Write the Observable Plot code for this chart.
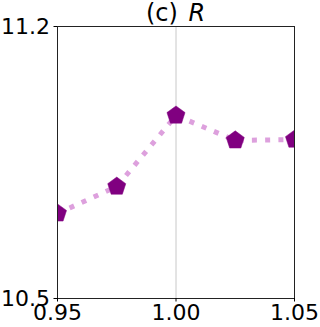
<!DOCTYPE html>
<html>
<head>
<meta charset="utf-8">
<script src="https://cdn.jsdelivr.net/npm/d3@7"></script>
<script src="https://cdn.jsdelivr.net/npm/@observablehq/plot@0.6"></script>
<style>
  html, body { margin: 0; padding: 0; background: #fff; }
  #chart svg { display: block; }
</style>
</head>
<body>
<div id="chart"></div>
<script>
const titlePrefix = "(c) ";
const titleVar = "R";
const xValues = [0.95, 0.975, 1.0, 1.025, 1.05];
const yValues = [10.719, 10.788, 10.971, 10.907, 10.909];
const xTicks = [0.95, 1.00, 1.05];
const yTicks = [10.5, 11.2];
const refX = [1.0];

const data = xValues.map((x, i) => ({x, y: yValues[i]}));

const pentagon = {
  draw(ctx, size) {
    const R = Math.sqrt(size / Math.PI);
    for (let i = 0; i < 5; i++) {
      const a = -Math.PI / 2 + i * 2 * Math.PI / 5;
      const px = R * Math.cos(a), py = R * Math.sin(a);
      if (i === 0) ctx.moveTo(px, py); else ctx.lineTo(px, py);
    }
    ctx.closePath();
  }
};

const chart = Plot.plot({
  width: 320,
  height: 327,
  marginLeft: 57,
  marginRight: 26,
  marginTop: 26,
  marginBottom: 29,
  style: {fontFamily: "DejaVu Sans", fontSize: "22px", color: "#000", background: "#fff"},
  x: {domain: [0.95, 1.05]},
  y: {domain: [10.5, 11.2]},
  marks: [
    Plot.ruleX(refX, {stroke: "#c8c8c8", strokeWidth: 1}),
    Plot.line(data, {x: "x", y: "y", stroke: "#dda0dd", strokeWidth: 5, strokeDasharray: "5,8.25", strokeLinecap: "butt", clip: true}),
    Plot.dot(data, {x: "x", y: "y", symbol: pentagon, r: 9.5, fill: "#800080", stroke: "#800080", strokeWidth: 0.5, clip: true}),
    Plot.frame({stroke: "#222", strokeWidth: 1}),
    Plot.axisX(xTicks, {tickFormat: d3.format(".2f"), tickSize: 3.5, tickPadding: 2, label: null, fontSize: 22}),
    Plot.axisY(yTicks, {tickFormat: d3.format(".1f"), tickSize: 3.5, tickPadding: 4, label: null, fontSize: 22})
  ]
});

const svg = d3.select(chart);
const t = svg.append("text")
  .attr("x", (57 + 294) / 2)
  .attr("y", 21)
  .attr("text-anchor", "middle")
  .attr("font-size", 24)
  .style("font-family", "DejaVu Sans")
  .style("font-size", "24px")
  .style("fill", "#000");
t.append("tspan").text(titlePrefix);
t.append("tspan").attr("dx", 3).style("font-style", "italic").text(titleVar);

document.getElementById("chart").append(chart);
</script>
</body>
</html>
